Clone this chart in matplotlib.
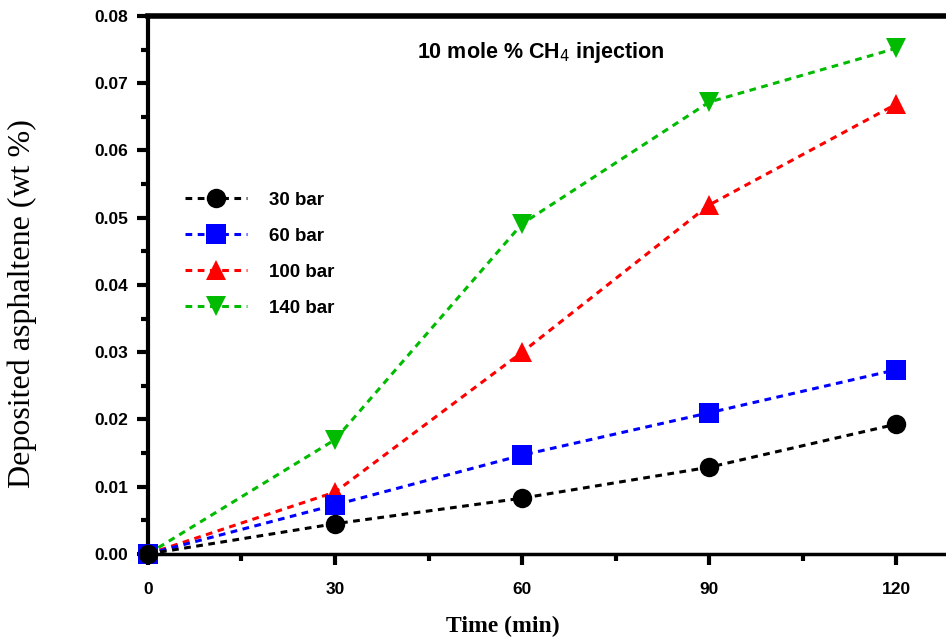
import matplotlib
matplotlib.use('Agg')
import matplotlib.pyplot as plt
from matplotlib.ticker import MultipleLocator

# values
time_min = [0, 30, 60, 90, 120]
bar_30 = [0.0, 0.0045, 0.0083, 0.0129, 0.0193]
bar_60 = [0.0, 0.0073, 0.0147, 0.0210, 0.0274]
bar_100 = [0.0, 0.0092, 0.0300, 0.0519, 0.0669]
bar_140 = [0.0, 0.0170, 0.0491, 0.0672, 0.0752]

series = [
    ('30 bar', bar_30, 'black', 'o', 14, 6),
    ('60 bar', bar_60, '#0000ff', 's', 14, 5),
    ('100 bar', bar_100, '#ff0000', '^', 15, 4),
    ('140 bar', bar_140, '#00bb00', 'v', 15, 3),
]

fig = plt.figure(figsize=(9.46, 6.4), dpi=100)
ax = fig.add_axes([0.1564, 0.1344, 0.8536, 0.8406])

for label, vals, col, mk, ms, z in series:
    ax.plot(time_min, vals, linestyle=(0, (2.2, 1.8)), linewidth=2.2, color=col,
            marker=mk, markersize=ms, markeredgewidth=0, label=label,
            clip_on=False, zorder=z)

ax.set_xlim(0, 129.5)
ax.set_ylim(0, 0.08)
ax.xaxis.set_major_locator(MultipleLocator(30))
ax.xaxis.set_minor_locator(MultipleLocator(15))
ax.yaxis.set_major_locator(MultipleLocator(0.01))
ax.yaxis.set_minor_locator(MultipleLocator(0.005))
ax.yaxis.set_major_formatter(plt.FuncFormatter(lambda v, p: f'{v:.2f}'))

ax.spines['right'].set_visible(False)
ax.spines['left'].set_linewidth(3)
ax.spines['top'].set_linewidth(4)
ax.spines['bottom'].set_linewidth(2.5)
ax.tick_params(which='major', length=8, width=3, labelsize=12.5)
ax.tick_params(axis='x', which='major', pad=12)
ax.tick_params(axis='y', which='major', pad=6)
ax.tick_params(which='minor', length=5, width=3)
for t in ax.get_xticklabels() + ax.get_yticklabels():
    t.set_fontweight('bold')
    t.set_family('Liberation Sans')

ax.set_xlabel('Time (min)', family='Liberation Serif', fontweight='bold',
              fontsize=17)
ax.xaxis.set_label_coords(0.44, -0.115)
ax.set_ylabel('Deposited asphaltene (wt %)', family='Liberation Serif',
              fontsize=23)
ax.yaxis.set_label_coords(-0.138, 0.465)

ax.text(0.486, 0.933, '10 mole % CH$_4$ injection', transform=ax.transAxes,
        ha='center', va='center', fontsize=15.5, fontweight='bold',
        family='Liberation Sans')

leg = ax.legend(loc='upper left', bbox_to_anchor=(0.046, 0.673), frameon=False,
                borderaxespad=0, borderpad=0, handlelength=3.3,
                handletextpad=1.2, labelspacing=1.0, markerscale=1.0,
                prop={'family': 'Liberation Sans', 'weight': 'bold', 'size': 13.5})

fig.savefig('out.png', dpi=100)
